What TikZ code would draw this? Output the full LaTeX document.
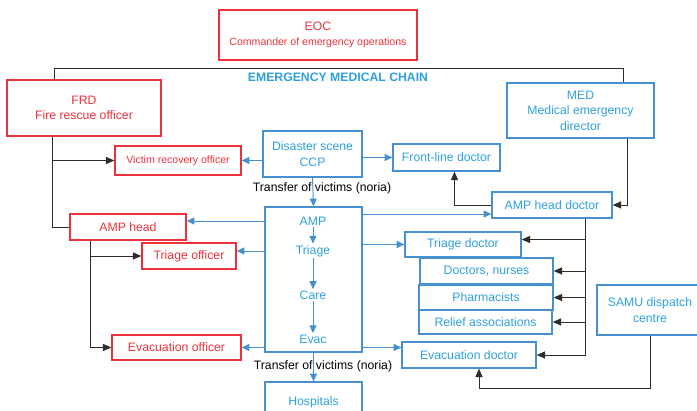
\documentclass[tikz,border=0pt]{standalone}
\usepackage{fontspec}
\setmainfont{Liberation Sans}
\usetikzlibrary{arrows.meta}
\usetikzlibrary{positioning}
\definecolor{chainred}{RGB}{235,50,60}
\definecolor{chainblue}{RGB}{70,145,205}
\definecolor{chaintext}{RGB}{45,160,220}
\definecolor{chainline}{RGB}{45,45,45}

\begin{document}
\begin{tikzpicture}[x=0.025cm, y=-0.025cm,
    every node/.style={font=\fontsize{8.7}{11}\selectfont, align=center, inner sep=1pt},
    sz/.style 2 args={minimum width=#1*0.025cm, minimum height=#2*0.025cm},
    redbox/.style={draw=chainred, line width=0.9pt, text=chainred},
    bluebox/.style={draw=chainblue, line width=0.9pt, text=chaintext},
    bluetext/.style={text=chaintext},
    smalltext/.style={font=\fontsize{7.5}{9}\selectfont},
    blkline/.style={draw=chainline, line width=0.7pt},
    blkarrow/.style={blkline, -{Triangle[length=6pt, width=5pt]}},
    bluarrow/.style={draw=chainblue, line width=0.7pt, -{Triangle[length=5.5pt, width=5pt]}},
  ]
  \useasboundingbox (0,0) rectangle (697,411);

  % command side (red)
  \node[redbox, sz={198}{50}] (eoc) at (318,35) {EOC\\{\fontsize{7.5}{10}\selectfont Commander of emergency operations}};
  \node[redbox, sz={154}{56}] (frd) at (84,108) {FRD\\Fire rescue officer};
  \node[redbox, smalltext, sz={126}{29}] (vro) at (178,160.5) {Victim recovery officer};
  \node[redbox, sz={116}{26}] (amph) at (128,227) {AMP head};
  \node[redbox, sz={94}{26}] (trio) at (189,256) {Triage officer};
  \node[redbox, sz={129}{25}] (evao) at (176.5,347.5) {Evacuation officer};

  \node[font=\fontsize{8.7}{11}\selectfont\bfseries, text=chaintext] (title) at (338,77) {EMERGENCY MEDICAL CHAIN};

  % medical side (blue)
  \node[bluebox, sz={147}{55}] (med) at (580.5,110.5) {MED\\Medical emergency\\director};
  \node[bluebox, sz={99}{46}] (ccp) at (312.5,154) {Disaster scene\\CCP};
  \node[bluebox, sz={107}{27}] (fld) at (446.5,157.5) {Front-line doctor};
  \node[bluebox, sz={120}{26}] (amphd) at (552,205) {AMP head doctor};
  \node[bluebox, sz={97}{145}] (ampbox) at (313.5,279.5) {};
  \node[bluetext] (ampT) at (313,221) {AMP};
  \node[bluetext] (triT) at (313,251) {Triage};
  \node[bluetext] (careT) at (313,295) {Care};
  \node[bluetext] (evacT) at (313,339) {Evac};
  \node[bluebox, sz={116}{25}] (trid) at (463,244.5) {Triage doctor};
  \node[bluebox, sz={133}{26}] (docn) at (486.5,271) {Doctors, nurses};
  \node[bluebox, sz={134}{25}] (phar) at (486,297.5) {Pharmacists};
  \node[bluebox, sz={133}{24}] (reli) at (485.5,322) {Relief associations};
  \node[bluebox, sz={134}{26}] (evad) at (469,355) {Evacuation doctor};
  \node[bluebox, sz={106}{50}] (samu) at (650,310) {SAMU dispatch\\centre};
  \node[bluebox, sz={97}{40}] (hosp) at (313.5,402) {Hospitals};

  \node (noria1) at (322,188) {Transfer of victims (noria)};
  \node (noria2) at (323,366) {Transfer of victims (noria)};

  % trunks of the black lines
  \coordinate (topL) at (54,68);
  \coordinate (topR) at (623,68);
  \coordinate (frdtrunk) at (52,0);
  \coordinate (amphtrunk) at (90,0);
  \coordinate (medtrunk) at (627,0);
  \coordinate (hdtrunk) at (585,0);
  \path (trid.east) ++(0,-5) coordinate (tridin);
  \path (amphd.west) ++(0,9) coordinate (amphdin);

  \draw[blkline] (frd.north -| topL) -- (topL) -- (topR) -- (med.north -| topR);
  \draw[blkline] (frd.south -| frdtrunk) |- (amph.west);
  \draw[blkarrow] (frdtrunk |- vro.west) -- (vro.west);
  \draw[blkarrow] (amph.south -| amphtrunk) |- (evao.west);
  \draw[blkarrow] (amphtrunk |- trio.west) -- (trio.west);
  \draw[blkarrow] (med.south -| medtrunk) |- (amphd.east);
  \draw[blkarrow] (amphd.west) -| ([xshift=0.2cm]fld.south);
  \draw[blkarrow] (amphd.south -| hdtrunk) |- (evad.east);
  \draw[blkarrow] (hdtrunk |- tridin) -- (tridin);
  \foreach \n in {docn, phar, reli}
    \draw[blkarrow] (hdtrunk |- \n.east) -- (\n.east);
  \draw[blkarrow] (samu.south) -- ++(0,53) -| ([xshift=0.25cm]evad.south);

  % blue flows
  \draw[bluarrow] (ccp.west |- vro.east) -- (vro.east);
  \draw[bluarrow] (ccp.east |- fld.west) -- (fld.west);
  \draw[bluarrow] (ccp.south) -- (ampbox.north);
  \draw[bluarrow] (ampbox.east |- amphdin) -- (amphdin);
  \draw[bluarrow] (ampbox.west |- ampT) -- (amph.east |- ampT);
  \draw[bluarrow] (ampbox.west |- triT) -- (trio.east |- triT);
  \draw[bluarrow] (ampbox.west |- evao.east) -- (evao.east);
  \draw[bluarrow] (ampbox.east |- trid.west) -- (trid.west);
  \draw[bluarrow] (ampbox.east |- evao.east) -- (evad.west |- evao.east);
  \draw[bluarrow] (ampT) -- (triT);
  \draw[bluarrow] (triT) -- (careT);
  \draw[bluarrow] (careT) -- (evacT);
  \draw[bluarrow] (ampbox.south) -- (hosp.north);

\end{tikzpicture}
\end{document}
